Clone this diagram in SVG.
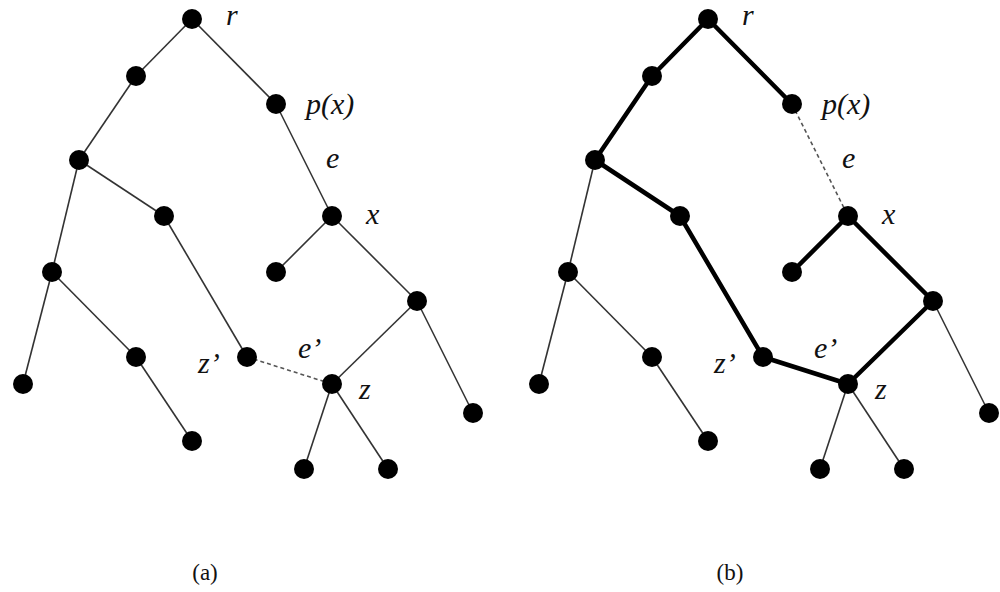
<svg xmlns="http://www.w3.org/2000/svg" width="1000" height="592" viewBox="0 0 1000 592">
<style>
.n{fill:#000}
.t{stroke:#333;stroke-width:1.6;fill:none}
.k{stroke:#000;stroke-width:4.5;fill:none;stroke-linejoin:round}
.d{stroke:#555;stroke-width:1.6;stroke-dasharray:4 3;fill:none}
.l{font-family:"Liberation Serif","DejaVu Serif",serif;font-style:italic;font-size:30px;fill:#111}
.c{font-family:"Liberation Serif","DejaVu Serif",serif;font-size:23px;fill:#111}
</style>
<defs><circle id="dot" r="10"/></defs>
<g id="connectors">
<g id="edges-a">
<line class="t" x1="192" y1="19" x2="136" y2="76"/>
<line class="t" x1="192" y1="19" x2="276" y2="104"/>
<line class="t" x1="276" y1="104" x2="332" y2="216"/>
<line class="t" x1="332" y1="216" x2="276" y2="272"/>
<line class="t" x1="332" y1="216" x2="417" y2="301"/>
<line class="t" x1="417" y1="301" x2="332" y2="384"/>
<line class="t" x1="417" y1="301" x2="473" y2="413"/>
<line class="t" x1="332" y1="384" x2="304" y2="469"/>
<line class="t" x1="332" y1="384" x2="388" y2="469"/>
<line class="d" x1="247" y1="357" x2="332" y2="384"/>
<line class="t" x1="136" y1="76" x2="79" y2="160"/>
<line class="t" x1="79" y1="160" x2="164" y2="216"/>
<line class="t" x1="79" y1="160" x2="52" y2="272"/>
<line class="t" x1="164" y1="216" x2="247" y2="357"/>
<line class="t" x1="52" y1="272" x2="23" y2="384"/>
<line class="t" x1="52" y1="272" x2="136" y2="357"/>
<line class="t" x1="136" y1="357" x2="192" y2="441"/>
</g>
<g id="edges-b">
<line class="t" x1="933" y1="301" x2="989" y2="413"/>
<line class="t" x1="848" y1="384" x2="820" y2="469"/>
<line class="t" x1="848" y1="384" x2="904" y2="469"/>
<line class="t" x1="595" y1="160" x2="568" y2="272"/>
<line class="t" x1="568" y1="272" x2="539" y2="384"/>
<line class="t" x1="568" y1="272" x2="652" y2="357"/>
<line class="t" x1="652" y1="357" x2="708" y2="441"/>
<line class="d" x1="792" y1="104" x2="848" y2="216"/>
<polyline class="k" points="792,104 708,19 652,76 595,160 680,216 763,357 848,384 933,301 848,216 792,272"/>
</g>
</g>
<g id="nodes-a">
<use href="#dot" class="n" x="192" y="19"/>
<use href="#dot" class="n" x="136" y="76"/>
<use href="#dot" class="n" x="276" y="104"/>
<use href="#dot" class="n" x="79" y="160"/>
<use href="#dot" class="n" x="164" y="216"/>
<use href="#dot" class="n" x="332" y="216"/>
<use href="#dot" class="n" x="52" y="272"/>
<use href="#dot" class="n" x="276" y="272"/>
<use href="#dot" class="n" x="417" y="301"/>
<use href="#dot" class="n" x="247" y="357"/>
<use href="#dot" class="n" x="136" y="357"/>
<use href="#dot" class="n" x="332" y="384"/>
<use href="#dot" class="n" x="23" y="384"/>
<use href="#dot" class="n" x="473" y="413"/>
<use href="#dot" class="n" x="192" y="441"/>
<use href="#dot" class="n" x="304" y="469"/>
<use href="#dot" class="n" x="388" y="469"/>
</g>
<g id="nodes-b">
<use href="#dot" class="n" x="708" y="19"/>
<use href="#dot" class="n" x="652" y="76"/>
<use href="#dot" class="n" x="792" y="104"/>
<use href="#dot" class="n" x="595" y="160"/>
<use href="#dot" class="n" x="680" y="216"/>
<use href="#dot" class="n" x="848" y="216"/>
<use href="#dot" class="n" x="568" y="272"/>
<use href="#dot" class="n" x="792" y="272"/>
<use href="#dot" class="n" x="933" y="301"/>
<use href="#dot" class="n" x="763" y="357"/>
<use href="#dot" class="n" x="652" y="357"/>
<use href="#dot" class="n" x="848" y="384"/>
<use href="#dot" class="n" x="539" y="384"/>
<use href="#dot" class="n" x="989" y="413"/>
<use href="#dot" class="n" x="708" y="441"/>
<use href="#dot" class="n" x="820" y="469"/>
<use href="#dot" class="n" x="904" y="469"/>
</g>
<g id="labels-a">
<text class="l" x="226" y="25">r</text>
<text class="l" x="306" y="114">p(x)</text>
<text class="l" x="326" y="168">e</text>
<text class="l" x="366" y="224">x</text>
<text class="l" x="298" y="358">e’</text>
<text class="l" x="198" y="373">z’</text>
<text class="l" x="359" y="399">z</text>
<text class="c" x="205" y="580" text-anchor="middle">(a)</text>
</g>
<g id="labels-b">
<text class="l" x="742" y="25">r</text>
<text class="l" x="822" y="114">p(x)</text>
<text class="l" x="842" y="168">e</text>
<text class="l" x="882" y="224">x</text>
<text class="l" x="814" y="358">e’</text>
<text class="l" x="714" y="373">z’</text>
<text class="l" x="875" y="399">z</text>
<text class="c" x="730" y="580" text-anchor="middle">(b)</text>
</g>
</svg>
